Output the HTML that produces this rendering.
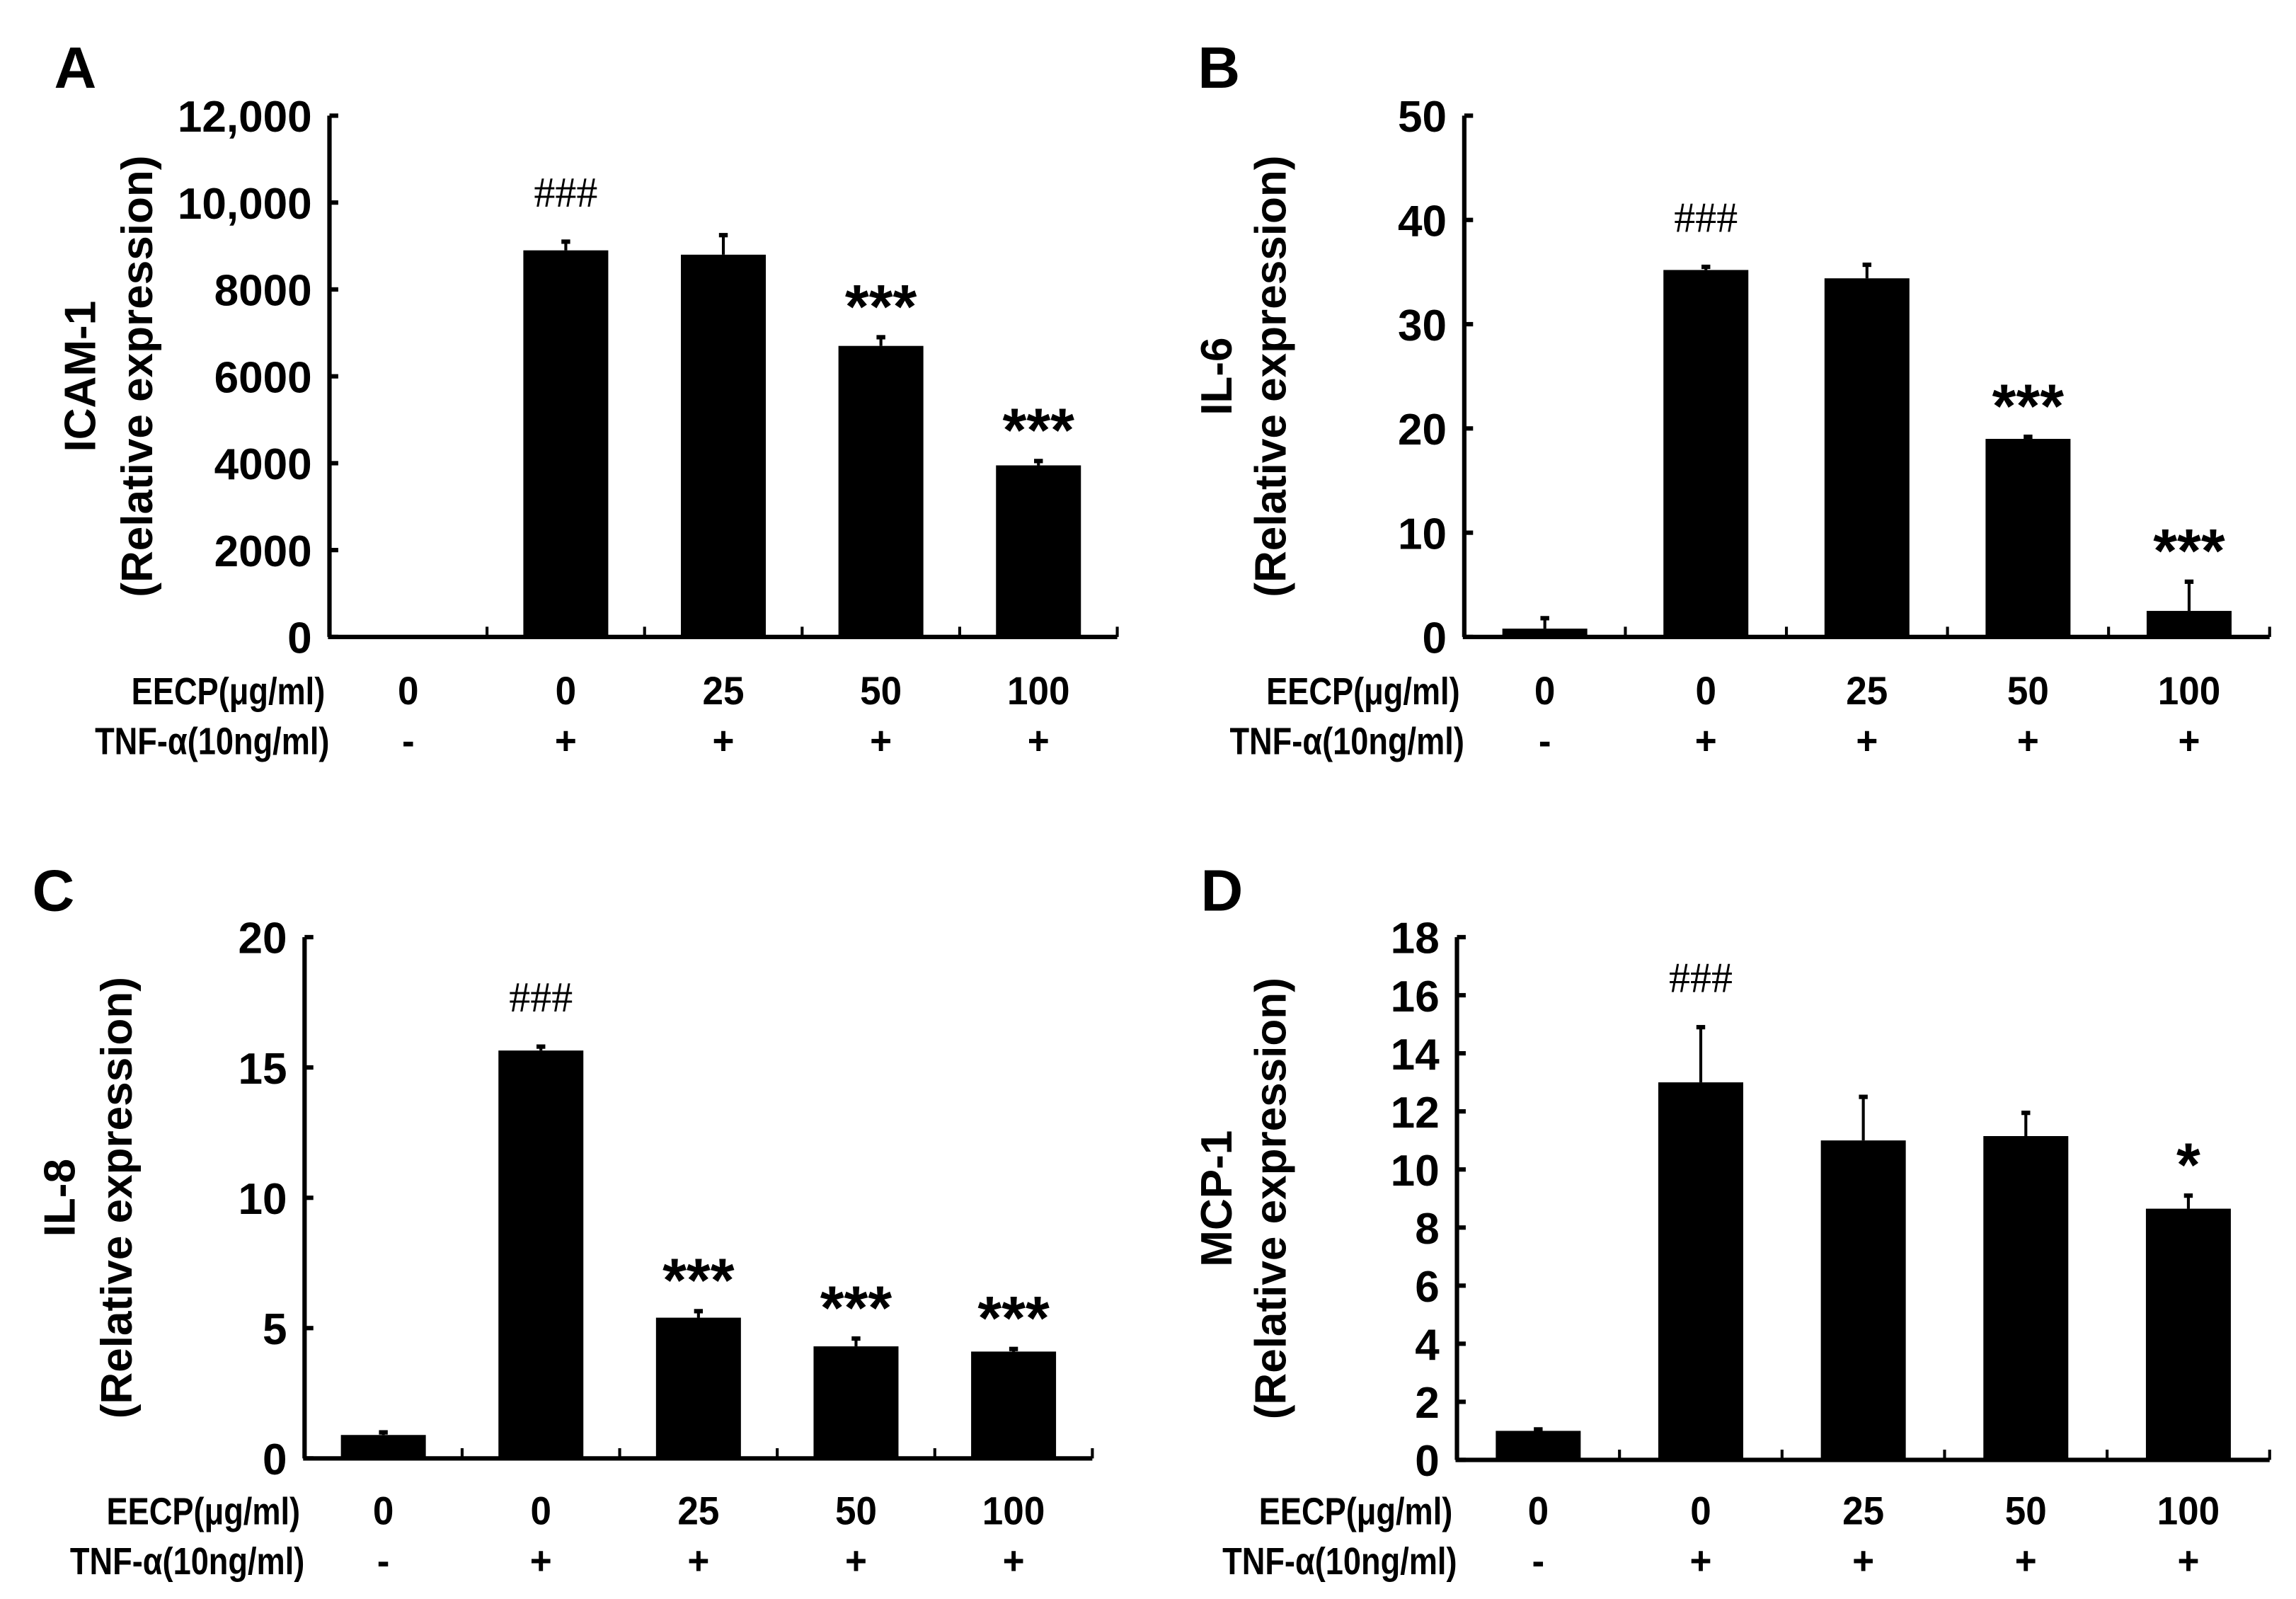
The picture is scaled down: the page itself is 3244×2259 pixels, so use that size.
<!DOCTYPE html>
<html><head><meta charset="utf-8"><style>
html,body{margin:0;padding:0;background:#fff;}
svg{display:block;}
.t{font-family:"Liberation Sans",sans-serif;font-weight:bold;fill:#000;}
.w{font-family:"Liberation Sans",sans-serif;font-weight:bold;fill:#000;}
.s{font-family:"Liberation Serif",serif;fill:#000;}
</style></head><body>
<svg id="fig" width="3244" height="2259" viewBox="0 0 1568 1092" preserveAspectRatio="none" xmlns="http://www.w3.org/2000/svg"></svg>
<script>
const categoriesEECP = ["0","0","25","50","100"];
const categoriesTNF = ["-","+","+","+","+"];
const valuesA = [0, 8900, 8800, 6700, 3950];
const errorsA = [0, 200, 450, 200, 100];
const marksA = ["", "###", "", "***", "***"];
const ticksA = ["0","2000","4000","6000","8000","10,000","12,000"];
const valuesB = [0.8, 35.2, 34.4, 19.0, 2.5];
const errorsB = [1.0, 0.3, 1.3, 0.2, 2.8];
const marksB = ["", "###", "", "***", "***"];
const ticksB = ["0","10","20","30","40","50"];
const valuesC = [0.9, 15.65, 5.4, 4.3, 4.1];
const errorsC = [0.1, 0.15, 0.25, 0.3, 0.1];
const marksC = ["", "###", "***", "***", "***"];
const ticksC = ["0","5","10","15","20"];
const valuesD = [1.0, 13.0, 11.0, 11.15, 8.65];
const errorsD = [0.05, 1.9, 1.5, 0.8, 0.45];
const marksD = ["", "###", "", "", "*"];
const ticksD = ["0","2","4","6","8","10","12","14","16","18"];

const NS = "http://www.w3.org/2000/svg";
const svg = document.getElementById('fig');
function mk(tag, attrs, parent, text){
  const e = document.createElementNS(NS, tag);
  for (const k in attrs) e.setAttribute(k, attrs[k]);
  if (text !== undefined) e.textContent = text;
  parent.appendChild(e);
  return e;
}
function nt(x, y, anchor, str, parent, fs, sx){
  return mk('text', {x:x/sx, y:y, class:'t', 'font-size':fs, 'text-anchor':anchor, transform:`scale(${sx},1)`}, parent, str);
}
const panels = [
  {id:"a", letter:"A", lx:37, ly:60, gene:"ICAM-1", ax:225, x1:763, top:79, bot:435, max:12000, vals:valuesA, errs:errorsA, marks:marksA, ticks:ticksA, tl1:113, tl2:74, row1:471, row2:505},
  {id:"b", letter:"B", lx:818, ly:60, gene:"IL-6", ax:1000, x1:1550, top:79, bot:435, max:50, vals:valuesB, errs:errorsB, marks:marksB, ticks:ticksB, tl1:887, tl2:850, row1:471, row2:505},
  {id:"c", letter:"C", lx:22, ly:622, gene:"IL-8", ax:208, x1:746, top:640, bot:996, max:20, vals:valuesC, errs:errorsC, marks:marksC, ticks:ticksC, tl1:99, tl2:60, row1:1031, row2:1065},
  {id:"d", letter:"D", lx:820, ly:622, gene:"MCP-1", ax:995, x1:1550, top:640, bot:997, max:18, vals:valuesD, errs:errorsD, marks:marksD, ticks:ticksD, tl1:887, tl2:850, row1:1031, row2:1065}
];
panels.forEach(p=>{
  const g = mk('g', {}, svg);
  
  
  const y = v => p.bot - v / p.max * (p.bot - p.top);
  const cw = (p.x1 - p.ax) / 5;
  const cx = i => p.ax + cw * (i + 0.5);
  const bw = 58;
  const L = mk('text', {x:p.lx, y:p.ly, class:'w', 'font-size':40}, g, p.letter);
  
  
  const yt = mk('g', {transform:`translate(${p.tl2},${(p.top+p.bot)/2}) rotate(-90)`}, g);
  
  
  mk('text', {x:0, y:-9, class:'w', 'font-size':30, 'text-anchor':'middle'}, yt, p.gene);
  mk('text', {x:0, y:p.tl1 - p.tl2 - 9, class:'w', 'font-size':30, 'text-anchor':'middle'}, yt, "(Relative expression)");
  p.vals.forEach((v,i)=>{
    if (v > 0) {
      const r = mk('rect', {x:cx(i)-bw/2, y:y(v), width:bw, height:p.bot - y(v), fill:'#000'}, g);
      
      
      const e = p.errs[i];
      if (e > 0) {
        const ln = mk('line', {x1:cx(i), x2:cx(i), y1:y(v), y2:y(v+e), stroke:'#000', 'stroke-width':2}, g);
        
        
        mk('line', {x1:cx(i)-3, x2:cx(i)+3, y1:y(v+e), y2:y(v+e), stroke:'#000', 'stroke-width':3}, g);
      }
    }
    const m = p.marks[i];
    if (m) {
      const top = y(v + p.errs[i]);
      let t;
      if (m === "###") t = mk('text', {x:cx(i), y:top - 24, class:'s', 'font-size':29, 'text-anchor':'middle'}, g, m);
      else t = mk('text', {x:cx(i), y:top + 6, class:'w', 'font-size':42, 'text-anchor':'middle', dy:'-0.3em'}, g, m);
      
      
    }
    const c1 = nt(cx(i), p.row1 + 10, 'middle', categoriesEECP[i], g, 27, 0.95);
    
    
    const c2 = nt(cx(i), p.row2 + 10, 'middle', categoriesTNF[i], g, 27, 0.95);
    
    
  });
  const ya = mk('line', {x1:p.ax, x2:p.ax, y1:p.top, y2:p.bot, stroke:'#000', 'stroke-width':3}, g);
  
  
  const xa = mk('line', {x1:p.ax-1, x2:p.x1, y1:p.bot, y2:p.bot, stroke:'#000', 'stroke-width':3}, g);
  
  
  for (let i=1;i<=5;i++){
    const xx = p.ax + cw*i;
    mk('line', {x1:xx, x2:xx, y1:p.bot, y2:p.bot-7, stroke:'#000', 'stroke-width':2}, g);
  }
  const step = p.max / (p.ticks.length - 1);
  p.ticks.forEach((lab,k)=>{
    const yy = y(k*step);
    mk('line', {x1:p.ax, x2:p.ax+6, y1:yy, y2:yy, stroke:'#000', 'stroke-width':3}, g);
    const t = nt(p.ax-12, yy+11, 'end', lab, g, 30, 1.0);
    
    
  });
  const r1 = nt(p.ax-3, p.row1+10, 'end', "EECP(μg/ml)", g, 26, 0.84);
  
  
  const r2 = nt(p.ax, p.row2+10, 'end', "TNF-α(10ng/ml)", g, 26, 0.84);
  
  
});
</script>
</body></html>
